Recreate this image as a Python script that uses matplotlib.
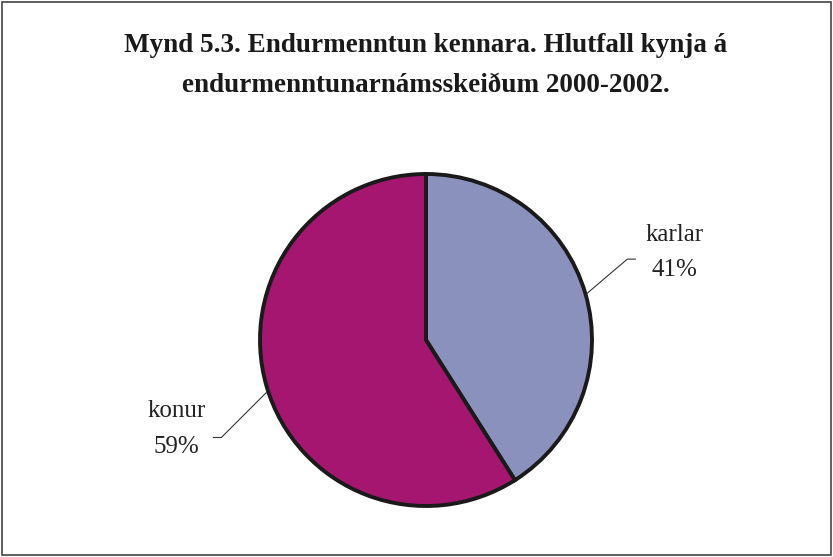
import numpy as np
import matplotlib
matplotlib.use("Agg")
import matplotlib.pyplot as plt

title_lines = ["Mynd 5.3. Endurmenntun kennara. Hlutfall kynja á",
               "endurmenntunarnámsskeiðum 2000-2002."]
labels = ["karlar", "konur"]
shares = [41, 59]
colors = ["#8A91BD", "#A4166F"]

plt.rcParams['font.family'] = ['Liberation Serif', 'DejaVu Serif']

W, H = 833, 557
fig = plt.figure(figsize=(W / 100, H / 100), dpi=100)
ax = fig.add_axes([0, 0, 1, 1])

cx, cy, r = 426, 217, 166
wedges, _ = ax.pie(shares, colors=colors, startangle=90, counterclock=False,
                   center=(cx, cy), radius=r, frame=True,
                   wedgeprops=dict(edgecolor='#1a1a1a', linewidth=2.8))
ax.set_xlim(0, W)
ax.set_ylim(0, H)
ax.set_aspect('equal')
ax.axis('off')

# leader line layout per label: angle shift, elbow offset, tail, text offsets
layout = {
    "karlar": dict(shift=0.0, dx=40, dy=34, tail=8, tx=39, ty=24, py=-11),
    "konur": dict(shift=2.0, dx=-45, dy=-45, tail=-8, tx=-37, ty=26, py=-10),
}
for w, lab, val in zip(wedges, labels, shares):
    L = layout[lab]
    ang = np.deg2rad((w.theta1 + w.theta2) / 2 + L["shift"])
    ex, ey = cx + (r + 2) * np.cos(ang), cy + (r + 2) * np.sin(ang)
    bx, by = ex + L["dx"], ey + L["dy"]
    hx = bx + L["tail"]
    ax.plot([ex, bx, hx], [ey, by, by], color='#333333', lw=0.8)
    tx = hx + L["tx"]
    ax.text(tx, by + L["ty"], lab, ha='center', va='center', fontsize=18, color='#222222')
    ax.text(tx, by + L["py"], f"{val}%", ha='center', va='center', fontsize=18, color='#222222')

for i, line in enumerate(title_lines):
    ax.text(cx, H - 52 - 40 * i, line, ha='center', va='baseline', fontsize=19.5,
            fontweight='bold', color='#1a1a1a')

border = plt.Rectangle((0.002, 0.003), 0.996, 0.994, transform=fig.transFigure,
                       fill=False, edgecolor='#444444', linewidth=1.2)
fig.patches.append(border)

fig.savefig("out.png", dpi=100)
